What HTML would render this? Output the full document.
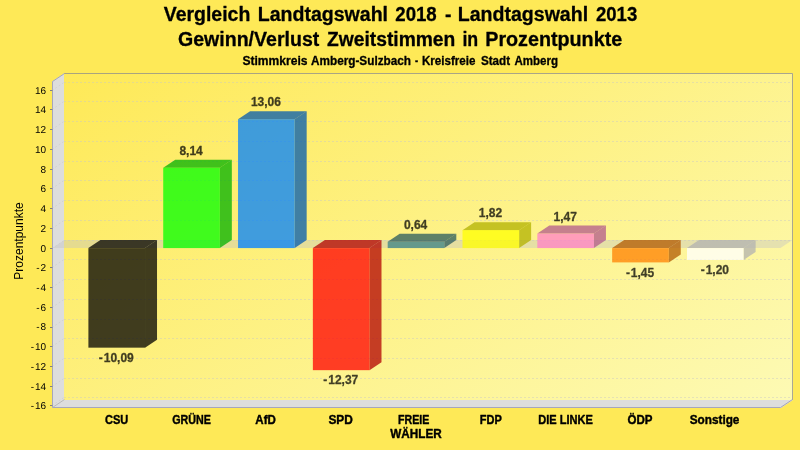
<!DOCTYPE html>
<html lang="de"><head><meta charset="utf-8"><title>Vergleich Landtagswahl 2018 - Landtagswahl 2013</title>
<style>html,body{margin:0;padding:0;background:#fee957;overflow:hidden}svg{display:block}text{font-family:"Liberation Sans",Arial,sans-serif}</style></head><body>
<svg width="800" height="450" viewBox="0 0 800 450">
<defs><linearGradient id="pl" gradientUnits="userSpaceOnUse" x1="64" y1="73" x2="441" y2="635"><stop offset="0" stop-color="#fee957"/><stop offset="1" stop-color="#fdfab4"/></linearGradient></defs>
<rect width="800" height="450" fill="#fee957"/>
<g font-weight="bold" text-anchor="middle" fill="#000" stroke="#000" stroke-width="0.3" stroke-linejoin="round">
<text y="20.6" font-size="20" text-anchor="start"><tspan x="163.72" textLength="86.61" lengthAdjust="spacingAndGlyphs">Vergleich</tspan> <tspan x="257.74" textLength="130.33" lengthAdjust="spacingAndGlyphs">Landtagswahl</tspan> <tspan x="395.28" textLength="41.46" lengthAdjust="spacingAndGlyphs">2018</tspan> <tspan x="445.00" textLength="6.45" lengthAdjust="spacingAndGlyphs">-</tspan> <tspan x="457.74" textLength="130.38" lengthAdjust="spacingAndGlyphs">Landtagswahl</tspan> <tspan x="596.00" textLength="41.22" lengthAdjust="spacingAndGlyphs">2013</tspan></text>
<text y="45.5" font-size="20" text-anchor="start"><tspan x="178.00" textLength="141.28" lengthAdjust="spacingAndGlyphs">Gewinn/Verlust</tspan> <tspan x="327.00" textLength="128.32" lengthAdjust="spacingAndGlyphs">Zweitstimmen</tspan> <tspan x="462.40" textLength="15.84" lengthAdjust="spacingAndGlyphs">in</tspan> <tspan x="485.24" textLength="136.94" lengthAdjust="spacingAndGlyphs">Prozentpunkte</tspan></text>
<text y="64.5" font-size="12" text-anchor="start"><tspan x="242.44" textLength="65.00" lengthAdjust="spacingAndGlyphs">Stimmkreis</tspan> <tspan x="311.00" textLength="100.00" lengthAdjust="spacingAndGlyphs">Amberg-Sulzbach</tspan> <tspan x="414.94" textLength="3.13" lengthAdjust="spacingAndGlyphs">-</tspan> <tspan x="422.00" textLength="53.44" lengthAdjust="spacingAndGlyphs">Kreisfreie</tspan> <tspan x="480.94" textLength="29.07" lengthAdjust="spacingAndGlyphs">Stadt</tspan> <tspan x="514.44" textLength="43.56" lengthAdjust="spacingAndGlyphs">Amberg</tspan></text>
</g>
<rect x="64" y="73" width="729" height="327" fill="url(#pl)"/>
<polygon points="52,81.5 64,73.5 64,400 793,400 781,408 52,408" fill="#dddddd"/>
<path d="M64,73.5 L792.5,73.5 L792.5,400" fill="none" stroke="#8c8c8c" stroke-opacity="0.75" stroke-width="1"/>
<path d="M64.5,73.5 L52.5,81.5 L52.5,407.5 L780.5,407.5 L792.5,399.5" fill="none" stroke="#a6a6bc" stroke-width="1"/>
<path d="M52.5,407.5 L64.5,399.5" fill="none" stroke="#b0b0b0" stroke-width="0.8"/>
<g stroke="#c6c6c6" stroke-opacity="0.88" stroke-width="0.5" stroke-dasharray="2,2" fill="none">
<path d="M52,405.5 L64,397.5"/><path d="M64,397.5 L792,397.5"/>
<path d="M52,386.5 L64,378.5"/><path d="M64,378.5 L792,378.5"/>
<path d="M52,366.5 L64,358.5"/><path d="M64,358.5 L792,358.5"/>
<path d="M52,346.5 L64,338.5"/><path d="M64,338.5 L792,338.5"/>
<path d="M52,327.5 L64,319.5"/><path d="M64,319.5 L792,319.5"/>
<path d="M52,307.5 L64,299.5"/><path d="M64,299.5 L792,299.5"/>
<path d="M52,287.5 L64,279.5"/><path d="M64,279.5 L792,279.5"/>
<path d="M52,267.5 L64,259.5"/><path d="M64,259.5 L792,259.5"/>
<path d="M52,248.5 L64,240.5"/><path d="M64,240.5 L792,240.5"/>
<path d="M52,228.5 L64,220.5"/><path d="M64,220.5 L792,220.5"/>
<path d="M52,208.5 L64,200.5"/><path d="M64,200.5 L792,200.5"/>
<path d="M52,188.5 L64,180.5"/><path d="M64,180.5 L792,180.5"/>
<path d="M52,169.5 L64,161.5"/><path d="M64,161.5 L792,161.5"/>
<path d="M52,149.5 L64,141.5"/><path d="M64,141.5 L792,141.5"/>
<path d="M52,129.5 L64,121.5"/><path d="M64,121.5 L792,121.5"/>
<path d="M52,109.5 L64,101.5"/><path d="M64,101.5 L792,101.5"/>
<path d="M52,90.5 L64,82.5"/><path d="M64,82.5 L792,82.5"/>
</g>
<polygon points="52.5,248.085 64.5,240.085 792.5,240.085 780.5,248.085" fill="#c4c4c4" fill-opacity="0.42"/>
<g stroke="#808080" stroke-width="1">
<line x1="50" y1="405.5" x2="52.5" y2="405.5"/>
<line x1="50" y1="386.5" x2="52.5" y2="386.5"/>
<line x1="50" y1="366.5" x2="52.5" y2="366.5"/>
<line x1="50" y1="346.5" x2="52.5" y2="346.5"/>
<line x1="50" y1="327.5" x2="52.5" y2="327.5"/>
<line x1="50" y1="307.5" x2="52.5" y2="307.5"/>
<line x1="50" y1="287.5" x2="52.5" y2="287.5"/>
<line x1="50" y1="267.5" x2="52.5" y2="267.5"/>
<line x1="50" y1="248.5" x2="52.5" y2="248.5"/>
<line x1="50" y1="228.5" x2="52.5" y2="228.5"/>
<line x1="50" y1="208.5" x2="52.5" y2="208.5"/>
<line x1="50" y1="188.5" x2="52.5" y2="188.5"/>
<line x1="50" y1="169.5" x2="52.5" y2="169.5"/>
<line x1="50" y1="149.5" x2="52.5" y2="149.5"/>
<line x1="50" y1="129.5" x2="52.5" y2="129.5"/>
<line x1="50" y1="109.5" x2="52.5" y2="109.5"/>
<line x1="50" y1="90.5" x2="52.5" y2="90.5"/>
</g>
<g font-size="10" text-anchor="end" fill="#000" text-rendering="geometricPrecision">
<text x="46" y="409.4" dx="0 0.8">-16</text>
<text x="46" y="389.6" dx="0 0.8">-14</text>
<text x="46" y="369.9" dx="0 0.8">-12</text>
<text x="46" y="350.2" dx="0 0.8">-10</text>
<text x="46" y="330.4" dx="0 0.8">-8</text>
<text x="46" y="310.7" dx="0 0.8">-6</text>
<text x="46" y="291.0" dx="0 0.8">-4</text>
<text x="46" y="271.2" dx="0 0.8">-2</text>
<text x="46" y="251.5">0</text>
<text x="46" y="231.7">2</text>
<text x="46" y="212.0">4</text>
<text x="46" y="192.3">6</text>
<text x="46" y="172.5">8</text>
<text x="46" y="152.8">10</text>
<text x="46" y="133.1">12</text>
<text x="46" y="113.3">14</text>
<text x="46" y="93.6">16</text>
</g>
<text transform="translate(23.3,241) rotate(-90)" font-size="12" text-anchor="middle" fill="#000">Prozentpunkte</text>
<g fill-opacity="0.75">
<polygon points="145.02,248.09 157.02,240.09 157.02,339.65 145.02,347.65" fill="#000000"/>
<polygon points="88.40,248.09 100.40,240.09 157.02,240.09 145.02,248.09" fill="#000000"/>
<rect x="88.40" y="248.09" width="56.62" height="99.57" fill="#000000"/>
<polygon points="219.84,167.76 231.84,159.76 231.84,240.09 219.84,248.09" fill="#00b200"/>
<polygon points="163.22,167.76 175.22,159.76 231.84,159.76 219.84,167.76" fill="#00b200"/>
<rect x="163.22" y="167.76" width="56.62" height="80.33" fill="#00ff00"/>
<polygon points="294.67,119.21 306.67,111.21 306.67,240.09 294.67,248.09" fill="#0059b2"/>
<polygon points="238.04,119.21 250.04,111.21 306.67,111.21 294.67,119.21" fill="#0059b2"/>
<rect x="238.04" y="119.21" width="56.62" height="128.88" fill="#0080ff"/>
<polygon points="369.49,248.09 381.49,240.09 381.49,362.15 369.49,370.15" fill="#b20000"/>
<polygon points="312.87,248.09 324.87,240.09 381.49,240.09 369.49,248.09" fill="#b20000"/>
<rect x="312.87" y="248.09" width="56.62" height="122.07" fill="#ff0000"/>
<polygon points="444.31,241.77 456.31,233.77 456.31,240.09 444.31,248.09" fill="#285a5d"/>
<polygon points="387.69,241.77 399.69,233.77 456.31,233.77 444.31,241.77" fill="#285a5d"/>
<rect x="387.69" y="241.77" width="56.62" height="6.32" fill="#3a8185"/>
<polygon points="519.13,230.13 531.13,222.13 531.13,240.09 519.13,248.09" fill="#b2b200"/>
<polygon points="462.51,230.13 474.51,222.13 531.13,222.13 519.13,230.13" fill="#b2b200"/>
<rect x="462.51" y="230.13" width="56.62" height="17.96" fill="#ffff00"/>
<polygon points="593.96,233.58 605.96,225.58 605.96,240.09 593.96,248.09" fill="#b2598c"/>
<polygon points="537.33,233.58 549.33,225.58 605.96,225.58 593.96,233.58" fill="#b2598c"/>
<rect x="537.33" y="233.58" width="56.62" height="14.51" fill="#ff80c8"/>
<polygon points="668.78,248.09 680.78,240.09 680.78,254.39 668.78,262.39" fill="#b25900"/>
<polygon points="612.16,248.09 624.16,240.09 680.78,240.09 668.78,248.09" fill="#b25900"/>
<rect x="612.16" y="248.09" width="56.62" height="14.31" fill="#ff8000"/>
<polygon points="743.60,248.09 755.60,240.09 755.60,251.93 743.60,259.93" fill="#b2b2b2"/>
<polygon points="686.98,248.09 698.98,240.09 755.60,240.09 743.60,248.09" fill="#b2b2b2"/>
<rect x="686.98" y="248.09" width="56.62" height="11.84" fill="#ffffff"/>
</g>
<g font-size="12" font-weight="bold" text-anchor="middle" fill="#000" stroke="#000" stroke-width="0.3" stroke-linejoin="round" opacity="0.75">
<text x="116.31" y="361.95" dx="0 0.9">-10,09</text>
<text x="191.13" y="154.86">8,14</text>
<text x="265.96" y="106.31">13,06</text>
<text x="340.78" y="384.45" dx="0 0.9">-12,37</text>
<text x="415.60" y="228.87">0,64</text>
<text x="490.42" y="217.23">1,82</text>
<text x="565.24" y="220.68">1,47</text>
<text x="640.07" y="276.69" dx="0 0.9">-1,45</text>
<text x="714.89" y="274.23" dx="0 0.9">-1,20</text>
</g>
<g font-size="12" font-weight="bold" text-anchor="middle" fill="#000" stroke="#000" stroke-width="0.4" stroke-linejoin="round">
<text x="116.71" y="423.7" textLength="23.3" lengthAdjust="spacingAndGlyphs">CSU</text>
<text x="191.53" y="423.7" textLength="38.7" lengthAdjust="spacingAndGlyphs">GRÜNE</text>
<text x="265.56" y="423.7" textLength="20.5" lengthAdjust="spacingAndGlyphs">AfD</text>
<text x="340.58" y="423.7" textLength="24.4" lengthAdjust="spacingAndGlyphs">SPD</text>
<text x="413.70" y="423.7" textLength="31.3" lengthAdjust="spacingAndGlyphs">FREIE</text>
<text x="416.00" y="438.1" textLength="51.4" lengthAdjust="spacingAndGlyphs">WÄHLER</text>
<text x="490.82" y="423.7" textLength="22.0" lengthAdjust="spacingAndGlyphs">FDP</text>
<text x="565.64" y="423.7" textLength="54.6" lengthAdjust="spacingAndGlyphs">DIE LINKE</text>
<text x="640.07" y="423.7" textLength="25.0" lengthAdjust="spacingAndGlyphs">ÖDP</text>
<text x="714.59" y="423.7" textLength="49.6" lengthAdjust="spacingAndGlyphs">Sonstige</text>
</g>
</svg></body></html>
